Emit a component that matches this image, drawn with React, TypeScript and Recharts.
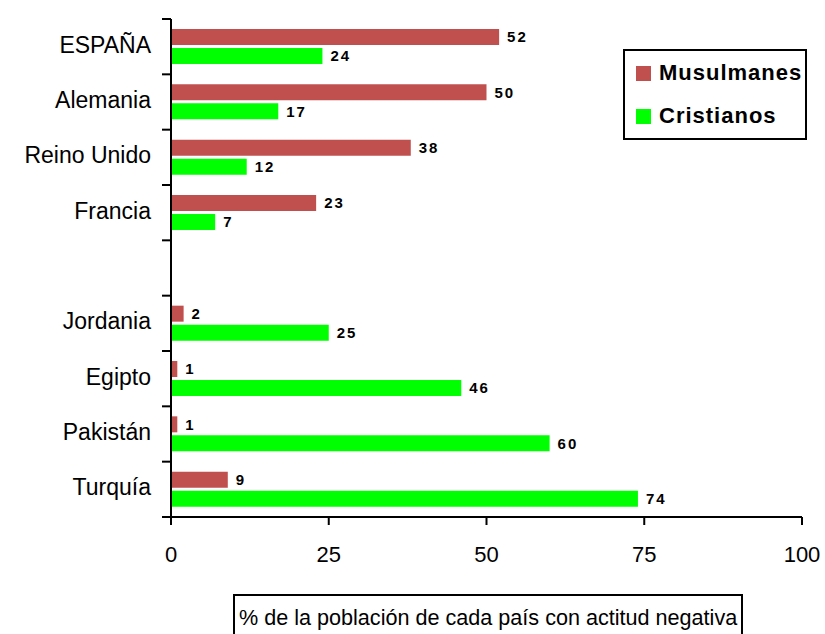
import React from 'react';
import { BarChart, Bar, XAxis, YAxis, Legend, LabelList } from 'recharts';

const countries = ['ESPAÑA', 'Alemania', 'Reino Unido', 'Francia', '', 'Jordania', 'Egipto', 'Pakistán', 'Turquía'];
const musulmanes = [52, 50, 38, 23, null, 2, 1, 1, 9];
const cristianos = [24, 17, 12, 7, null, 25, 46, 60, 74];
const xTicks = [0, 25, 50, 75, 100];

const data = countries.map((name, i) => ({ name, musulmanes: musulmanes[i], cristianos: cristianos[i] }));

const FONT = '"Liberation Sans", Arial, sans-serif';
const RED = '#C0504D';
const GREEN = '#00FF00';

const W = 825;
const H = 634;
const TOP = 19;
const BOTTOM = 117;
const BAND = (H - TOP - BOTTOM) / countries.length;

const CountryTick = ({ x, y, payload, index }: any) => (
  <g>
    <line x1={x - 9} x2={x} y1={y - BAND / 2} y2={y - BAND / 2} stroke="#000" strokeWidth={2} />
    {index === countries.length - 1 && (
      <line x1={x - 9} x2={x} y1={y + BAND / 2} y2={y + BAND / 2} stroke="#000" strokeWidth={2} />
    )}
    <text x={x - 20} y={y + 6} textAnchor="end" fontSize={23} fontFamily={FONT} fill="#000">
      {payload.value}
    </text>
  </g>
);

const LegendBox = () => (
  <div
    style={{
      border: '2px solid #000',
      background: '#fff',
      width: 180,
      height: 87,
      boxSizing: 'content-box',
      fontFamily: FONT,
      fontWeight: 'bold',
      fontSize: 22,
      letterSpacing: 1,
      color: '#000',
    }}
  >
    {[
      { label: 'Musulmanes', color: RED, top: 11 },
      { label: 'Cristianos', color: GREEN, top: 54 },
    ].map((it) => (
      <div key={it.label} style={{ position: 'absolute', left: 13, top: it.top, display: 'flex', alignItems: 'center' }}>
        <span style={{ display: 'inline-block', width: 15, height: 15, background: it.color, marginRight: 8 }} />
        <span>{it.label}</span>
      </div>
    ))}
  </div>
);

const fmt = (v: any) => (v == null ? '' : v);
const labelStyle = { fill: '#000', fontSize: 15, fontWeight: 'bold', fontFamily: FONT, letterSpacing: 2 };

export default function App() {
  return (
    <div style={{ position: 'absolute', left: 0, top: 0, width: W, height: H, background: '#fff' }}>
      <BarChart
        width={W}
        height={H}
        data={data}
        layout="vertical"
        margin={{ top: TOP, right: 23, left: 0, bottom: BOTTOM - 60 }}
        barSize={16}
        barGap={3}
      >
        <XAxis
          type="number"
          domain={[0, 100]}
          ticks={xTicks}
          height={60}
          tickSize={8}
          tickMargin={21}
          stroke="#000"
          strokeWidth={2}
          tick={{ fill: '#000', fontSize: 22, fontFamily: FONT }}
        />
        <YAxis
          type="category"
          dataKey="name"
          width={171}
          interval={0}
          tickSize={0}
          tickMargin={0}
          tickLine={false}
          stroke="#000"
          strokeWidth={2}
          tick={<CountryTick />}
        />
        <Legend
          layout="vertical"
          align="center"
          verticalAlign="middle"
          wrapperStyle={{ left: 623, top: 49, right: 'auto', bottom: 'auto', width: 184, height: 91 }}
          content={<LegendBox />}
        />
        <Bar dataKey="musulmanes" name="Musulmanes" fill={RED} isAnimationActive={false}>
          <LabelList dataKey="musulmanes" position="right" offset={8} formatter={fmt} style={labelStyle} />
        </Bar>
        <Bar dataKey="cristianos" name="Cristianos" fill={GREEN} isAnimationActive={false}>
          <LabelList dataKey="cristianos" position="right" offset={8} formatter={fmt} style={labelStyle} />
        </Bar>
      </BarChart>
      <div
        style={{
          position: 'absolute',
          left: 233,
          top: 594,
          width: 510,
          height: 50,
          border: '2px solid #000',
          fontFamily: FONT,
          fontSize: 21.6,
          color: '#000',
          whiteSpace: 'nowrap',
          paddingLeft: 4,
          paddingTop: 10,
          boxSizing: 'border-box',
          lineHeight: '24px',
        }}
      >
        % de la población de cada país con actitud negativa
      </div>
    </div>
  );
}
